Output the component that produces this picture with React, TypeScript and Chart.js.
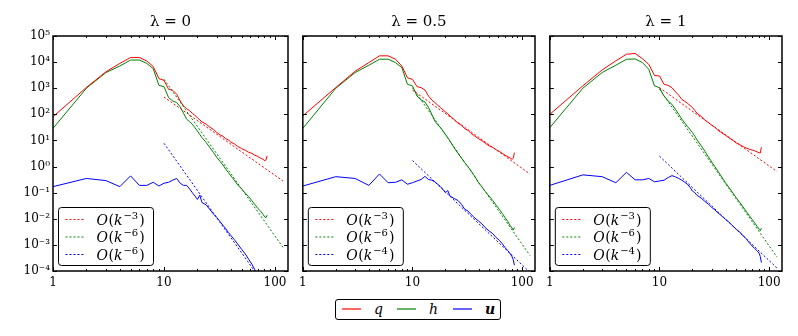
import React, { useEffect, useRef } from "react";
import { Chart, registerables } from "chart.js";

Chart.register(...registerables);

// ---------- data ----------
const K = [1,2,3,4,5,6,7,8,9,10,11,12,13,14,15,16,17,18,19,20,21,22,24,26,28,30,32,34,36,38,40,43,46,50,54,58,62,66,70,74,78,81,83,85];

// lambda = 0
const Q_0 = [81,1070,4270,8900,15100,15100,11000,6760,2340,2000,912,832,589,324,209,166,138,110,91,74,62,51,42,32,26,20,16.2,14.5,11.7,10.5,8.7,7.4,6.0,4.9,4.2,3.5,3.2,2.7,2.45,2.1,1.9,1.66,1.8,2.6];
const H_0 = [29,1000,3980,7080,12000,12000,8900,5620,1290,1150,437,324,282,195,110,65,52,42,31,23,17,12.9,8.3,5.2,3.4,2.2,1.58,1.15,0.79,0.59,0.44,0.30,0.20,0.14,0.095,0.070,0.049,0.035,0.025,0.020,0.0148,0.0117,0.011,0.0138];
const U_0 = [0.17,0.35,0.29,0.17,0.44,0.19,0.19,0.25,0.18,0.23,0.25,0.30,0.35,0.23,0.19,0.19,0.14,0.10,0.075,0.055,0.08,0.042,0.034,0.022,0.015,0.011,0.0078,0.0056,0.0042,0.0030,0.0023,0.0016,0.0011,0.00068,0.00045,0.00028,0.00018,0.00011,0.00006,0.000035,0.00002,0.000015,0.000012,0.00001];

// lambda = 0.5
const Q_05 = [87,1070,4470,9550,17400,17400,12900,7080,2510,2190,1150,1050,851,501,355,282,224,182,148,123,105,87,63,46,38,28,25,19,15.8,13.5,11.7,9.8,7.9,6.2,5.4,4.4,3.8,3.2,2.7,2.4,2.1,1.9,2.1,3.4];
const H_05 = [29,1000,3980,7590,12900,12900,9550,6170,1410,1230,501,355,295,182,100,55,40,31,23,17,12.6,9.5,5.2,3.2,2.1,1.4,1.0,0.71,0.50,0.35,0.24,0.166,0.112,0.074,0.050,0.033,0.023,0.016,0.011,0.0079,0.0054,0.0044,0.0037,0.0047];
const U_05 = [0.18,0.41,0.35,0.19,0.52,0.24,0.25,0.31,0.21,0.24,0.28,0.32,0.42,0.32,0.30,0.26,0.21,0.17,0.13,0.10,0.12,0.074,0.060,0.050,0.036,0.023,0.020,0.015,0.012,0.0098,0.0082,0.0064,0.0046,0.0034,0.0027,0.0019,0.0015,0.0011,0.00078,0.00060,0.00045,0.00035,0.00027,0.000166];

// lambda = 1
const Q_1 = [100,1230,5010,11200,20000,21400,13500,8130,3090,2950,1410,1290,1050,724,537,372,316,263,219,182,141,110,83,60,48,38,32,25,21,18,15.8,12.6,10.5,8.1,6.9,5.8,5.1,4.6,4.3,4.0,3.6,3.4,3.3,5.5];
const H_1 = [31,1000,3980,7590,12900,13200,9550,5250,1230,1050,501,324,240,155,100,65,47,34,26,20,14.5,10.5,6.3,3.8,2.3,1.48,1.0,0.68,0.47,0.33,0.24,0.158,0.105,0.065,0.042,0.028,0.019,0.013,0.0095,0.0069,0.0050,0.0040,0.0035,0.0044];
const U_1 = [0.19,0.48,0.41,0.24,0.60,0.31,0.31,0.35,0.26,0.28,0.30,0.38,0.45,0.40,0.35,0.30,0.25,0.21,0.16,0.115,0.10,0.079,0.062,0.046,0.036,0.027,0.022,0.017,0.014,0.0115,0.0095,0.0074,0.0056,0.0040,0.0031,0.0022,0.0017,0.0012,0.00091,0.00072,0.00058,0.00048,0.00036,0.00021];

// reference power laws (end points)
const REF_K = [10, 118];
const REF_Q_0 = [460, 0.28];
const REF_H_0 = [2200, 0.00081];
const REF_U_0 = [7.8, 0.0000029];
const REF_Q_05 = [850, 0.52];
const REF_H_05 = [1050, 0.00039];
const REF_U_05 = [1.7, 0.000088];
const REF_Q_1 = [1050, 0.64];
const REF_H_1 = [910, 0.00034];
const REF_U_1 = [2.5, 0.000129];

const TITLES = ["λ = 0", "λ = 0.5", "λ = 1"];
const REF_EXPONENTS = [["3", "6", "6"], ["3", "6", "4"], ["3", "6", "4"]];
const SERIES_NAMES = ["q", "h", "u"];
const Y_TICKS = [1e-4, 1e-3, 1e-2, 1e-1, 1, 10, 100, 1000, 1e4, 1e5];
const X_TICKS = [1,2,3,4,5,6,7,8,9,10,20,30,40,50,60,70,80,90,100];
const X_LABELS = ["1", "10", "100"];
const X_MIN = 1;
const X_MAX = 131;
const Y_MIN = 1e-4;
const Y_MAX = 1e5;

const COLORS = ["#ff0000", "#008000", "#0000ff"];
const LEGEND_COLORS = ["rgba(255,0,0,0.6)", "rgba(0,128,0,0.6)", "rgba(0,0,255,0.6)"];
const FONT = '"DejaVu Serif", "Liberation Serif", serif';

const PANELS = [
  { left: 0, width: 294, yW: 53, padR: 6, showY: true, q: Q_0, h: H_0, u: U_0, rq: REF_Q_0, rh: REF_H_0, ru: REF_U_0 },
  { left: 294, width: 247, yW: 6, padR: 6, showY: false, q: Q_05, h: H_05, u: U_05, rq: REF_Q_05, rh: REF_H_05, ru: REF_U_05 },
  { left: 541, width: 257, yW: 6, padR: 16, showY: false, q: Q_1, h: H_1, u: U_1, rq: REF_Q_1, rh: REF_H_1, ru: REF_U_1 },
];
const CANVAS_H = 296;
const X_AXIS_H = 25;

const SUP: Record<string, string> = { "-": "⁻", "0": "⁰", "1": "¹", "2": "²", "3": "³", "4": "⁴", "5": "⁵", "6": "⁶", "7": "⁷", "8": "⁸", "9": "⁹" };
function powLabel(v: number) {
  const e = Math.round(Math.log10(v));
  return "10" + String(e).split("").map((c) => SUP[c]).join("");
}

function pts(xs: number[], ys: number[]) {
  return xs.map((x, i) => ({ x, y: ys[i] }));
}

function drawMath(ctx: CanvasRenderingContext2D, x: number, y: number, e: string) {
  ctx.fillStyle = "#000";
  ctx.textAlign = "left";
  ctx.textBaseline = "alphabetic";
  const base = y + 5;
  const seg = (t: string, f: string, dy = 0, gap = 0) => {
    ctx.font = f;
    ctx.fillText(t, x + gap, base + dy);
    x += ctx.measureText(t).width + gap;
  };
  seg("O", `italic 14px ${FONT}`);
  seg("(", `14px ${FONT}`, 0, 0.5);
  seg("k", `italic 14px ${FONT}`);
  seg("−" + e, `10px ${FONT}`, -6, 1);
  seg(")", `14px ${FONT}`, 0, 1);
}

function makePlugin(title: string, exps: string[]) {
  return {
    id: "decor",
    afterDraw(chart: any) {
      const { ctx, chartArea: a, scales } = chart;
      const xs = scales.x;
      const ys = scales.y;
      ctx.save();
      ctx.strokeStyle = "#000";
      ctx.lineWidth = 1;
      ctx.setLineDash([]);
      ctx.beginPath();
      for (const t of X_TICKS) {
        if (t < X_MIN || t > X_MAX) continue;
        const px = Math.round(xs.getPixelForValue(t)) + 0.5;
        const major = Math.abs(Math.log10(t) - Math.round(Math.log10(t))) < 1e-9;
        const len = major ? 4 : 2;
        ctx.moveTo(px, a.bottom);
        ctx.lineTo(px, a.bottom - len);
        ctx.moveTo(px, a.top);
        ctx.lineTo(px, a.top + len);
      }
      for (const t of Y_TICKS) {
        const py = Math.round(ys.getPixelForValue(t)) + 0.5;
        ctx.moveTo(a.left, py);
        ctx.lineTo(a.left + 4, py);
        ctx.moveTo(a.right, py);
        ctx.lineTo(a.right - 4, py);
      }
      ctx.stroke();
      ctx.lineWidth = 1.5;
      ctx.strokeRect(a.left, a.top, a.right - a.left, a.bottom - a.top);

      // title
      ctx.fillStyle = "#000";
      ctx.font = `15px ${FONT}`;
      ctx.textAlign = "center";
      ctx.textBaseline = "middle";
      ctx.fillText(title, (a.left + a.right) / 2, a.top - 14);

      // legend
      const x0 = a.left + 5.5;
      const y0 = a.bottom - 63.5;
      const w = 95;
      const h = 58;
      ctx.beginPath();
      ctx.roundRect(x0, y0, w, h, 3);
      ctx.fillStyle = "#fff";
      ctx.fill();
      ctx.lineWidth = 1;
      ctx.strokeStyle = "#000";
      ctx.stroke();
      const rows = [y0 + 12, y0 + 29.5, y0 + 47];
      COLORS.forEach((c, i) => {
        ctx.beginPath();
        ctx.setLineDash([2, 2]);
        ctx.strokeStyle = c;
        ctx.lineWidth = 1;
        ctx.moveTo(x0 + 7, rows[i]);
        ctx.lineTo(x0 + 27, rows[i]);
        ctx.stroke();
        ctx.setLineDash([]);
        drawMath(ctx, x0 + 38, rows[i], exps[i]);
      });
      ctx.restore();
    },
  };
}

function Panel({ idx }: { idx: number }) {
  const ref = useRef<HTMLCanvasElement>(null);
  const p = PANELS[idx];
  useEffect(() => {
    if (!ref.current) return;
    const solid = (data: number[], c: string, label: string) => ({
      label,
      data: pts(K, data),
      borderColor: c,
      backgroundColor: c,
      borderWidth: 1,
      pointRadius: 0,
      tension: 0,
      fill: false,
    });
    const dotted = (data: number[], c: string, label: string) => ({
      label,
      data: pts(REF_K, data),
      borderColor: c,
      backgroundColor: c,
      borderWidth: 1,
      borderDash: [2, 2],
      pointRadius: 0,
      tension: 0,
      fill: false,
    });
    const chart = new Chart(ref.current, {
      type: "line",
      data: {
        datasets: [
          dotted(p.rq, COLORS[0], "ref q"),
          dotted(p.rh, COLORS[1], "ref h"),
          dotted(p.ru, COLORS[2], "ref u"),
          solid(p.q, COLORS[0], SERIES_NAMES[0]),
          solid(p.h, COLORS[1], SERIES_NAMES[1]),
          solid(p.u, COLORS[2], SERIES_NAMES[2]),
        ],
      },
      options: {
        responsive: false,
        animation: false,
        devicePixelRatio: 1,
        layout: { padding: { left: 0, right: p.padR, top: 36, bottom: 0 } },
        plugins: { legend: { display: false }, tooltip: { enabled: false }, title: { display: false } },
        scales: {
          x: {
            type: "logarithmic",
            min: X_MIN,
            max: X_MAX,
            grid: { display: false, drawTicks: false },
            border: { display: false },
            afterBuildTicks: (s: any) => {
              s.ticks = X_TICKS.filter((t) => t >= X_MIN && t <= X_MAX).map((v) => ({ value: v }));
            },
            afterFit: (s: any) => {
              s.height = X_AXIS_H;
            },
            ticks: {
              autoSkip: false,
              maxRotation: 0,
              padding: 5,
              color: "#000",
              font: { family: FONT, size: 12 },
              callback: (v: any) => (X_LABELS.includes(String(v)) ? String(v) : ""),
            },
          },
          y: {
            type: "logarithmic",
            min: Y_MIN,
            max: Y_MAX,
            grid: { display: false, drawTicks: false },
            border: { display: false },
            afterBuildTicks: (s: any) => {
              s.ticks = Y_TICKS.map((v) => ({ value: v }));
            },
            afterFit: (s: any) => {
              s.width = p.yW;
            },
            ticks: {
              display: p.showY,
              autoSkip: false,
              padding: 3,
              color: "#000",
              font: { family: FONT, size: 12 },
              callback: (v: any) => powLabel(Number(v)),
            },
          },
        },
      } as any,
      plugins: [makePlugin(TITLES[idx], REF_EXPONENTS[idx]) as any],
    });
    return () => chart.destroy();
  }, []);
  return (
    <canvas
      ref={ref}
      width={p.width}
      height={CANVAS_H}
      style={{ position: "absolute", left: p.left, top: 0, width: p.width, height: CANVAS_H }}
    />
  );
}

function BottomLegend() {
  const lineStyle = (left: number, c: string): React.CSSProperties => ({
    position: "absolute",
    left,
    top: 8,
    width: 19,
    height: 0,
    borderTop: `2px solid ${c}`,
  });
  const textStyle = (left: number, bold = false): React.CSSProperties => ({
    position: "absolute",
    left,
    top: 0,
    lineHeight: "18px",
    fontFamily: FONT,
    fontStyle: "italic",
    fontWeight: bold ? "bold" : "normal",
    fontSize: 14,
    color: "#000",
  });
  return (
    <div
      style={{
        position: "absolute",
        left: 335,
        top: 299,
        width: 166,
        height: 21,
        border: "1px solid #000",
        borderRadius: 3,
        boxSizing: "border-box",
        background: "#fff",
      }}
    >
      <div style={lineStyle(6, LEGEND_COLORS[0])} />
      <span style={textStyle(38)}>{SERIES_NAMES[0]}</span>
      <div style={lineStyle(61, LEGEND_COLORS[1])} />
      <span style={textStyle(93)}>{SERIES_NAMES[1]}</span>
      <div style={lineStyle(117, LEGEND_COLORS[2])} />
      <span style={textStyle(149, true)}>{SERIES_NAMES[2]}</span>
    </div>
  );
}

export default function App() {
  return (
    <div style={{ position: "absolute", left: 0, top: 0, width: 798, height: 336, background: "#fff", overflow: "hidden" }}>
      <Panel idx={0} />
      <Panel idx={1} />
      <Panel idx={2} />
      <BottomLegend />
    </div>
  );
}
